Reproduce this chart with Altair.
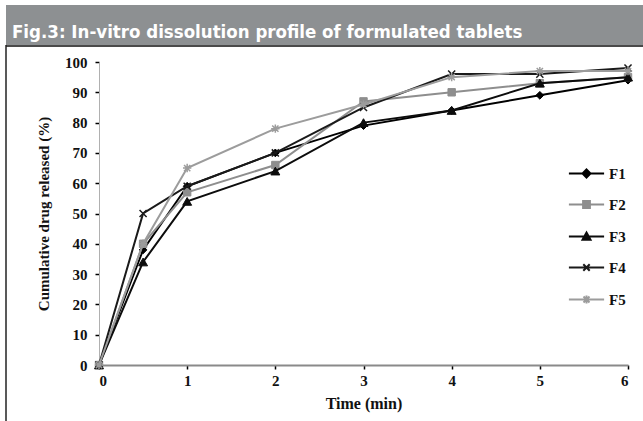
import altair as alt
import pandas as pd

title_text = "Fig.3: In-vitro dissolution profile of formulated tablets"
x_title = "Time (min)"
y_title = "Cumulative drug released (%)"

times = [0, 0.5, 1, 2, 3, 4, 5, 6]
series_names = ["F1", "F2", "F3", "F4", "F5"]
f1 = [0, 38, 59, 70, 79, 84, 89, 94]
f2 = [0, 40, 57, 66, 87, 90, 93, 95]
f3 = [0, 34, 54, 64, 80, 84, 93, 95]
f4 = [0, 50, 59, 70, 85, 96, 96, 98]
f5 = [0, 40, 65, 78, 86, 95, 97, 97]
all_values = [f1, f2, f3, f4, f5]

x_ticks = [0, 1, 2, 3, 4, 5, 6]
y_ticks = list(range(0, 101, 10))

rows = []
for name, vals in zip(series_names, all_values):
    for t, v in zip(times, vals):
        rows.append({"time": t, "value": v, "series": name})
df = pd.DataFrame(rows)

# styles
colors = ["#000000", "#8e8e8e", "#0c0c0c", "#1a1a1a", "#9c9c9c"]
X_PATH = "M-1,-1L1,1M-1,1L1,-1"
STAR_PATH = "M-1,0L1,0M0,-1L0,1M-0.75,-0.75L0.75,0.75M-0.75,0.75L0.75,-0.75"
marker_shapes = ["diamond", "square", "triangle-up", X_PATH, STAR_PATH]
marker_filled = [True, True, True, False, False]
marker_sizes = [60, 55, 80, 50, 70]
L = "M-4.4,0L4.4,0"
legend_paths = [
    L + "M0,-1L1,0L0,1L-1,0ZM0,-0.5L0.5,0L0,0.5L-0.5,0Z",
    L + "M-0.85,-0.85L0.85,-0.85L0.85,0.85L-0.85,0.85ZM-0.4,-0.4L0.4,-0.4L0.4,0.4L-0.4,0.4Z",
    L + "M0,-1L1,0.8L-1,0.8ZM0,-0.3L0.4,0.5L-0.4,0.5Z",
    L + "M-0.8,-0.8L0.8,0.8M-0.8,0.8L0.8,-0.8",
    L + "M0,-1L0,1M-0.75,-0.75L0.75,0.75M-0.75,0.75L0.75,-0.75",
]

W, H = 529, 303
PL, PT = 99, 62
FULL_W, FULL_H = 643, 421

serif = "Liberation Serif"

x_scale = alt.Scale(domain=[0, 6], nice=False, zero=False)
y_scale = alt.Scale(domain=[0, 100], nice=False)

x_axis = alt.Axis(
    values=x_ticks, format="d", grid=False, title=x_title, labelOverlap=False,
    domainColor="#8a8a8a", domainWidth=2, tickColor="#000000", tickSize=4, tickWidth=1.5,
    labelFont=serif, labelFontSize=15, labelFontWeight="bold", labelColor="#111111", labelPadding=4,
    titleFont=serif, titleFontSize=16, titleFontWeight="bold", titleColor="#111111", titlePadding=7,
)
y_axis = alt.Axis(
    values=y_ticks, format="d", grid=False, title=y_title, labelOverlap=False,
    domainColor="#b0b0b0", domainWidth=1, tickColor="#000000", tickSize=4, tickWidth=1.5,
    labelFont=serif, labelFontSize=15, labelFontWeight="bold", labelColor="#111111", labelPadding=8,
    titleFont=serif, titleFontSize=15, titleFontWeight="bold", titleColor="#111111", titlePadding=13,
)

layers = []

# title bar background, title text and frame line (decoration)
deco = pd.DataFrame({"k": [0]})
bar = alt.Chart(deco).mark_rect(color="#8d9092").encode(
    x=alt.value(6 - PL), x2=alt.value(FULL_W - PL), y=alt.value(5 - PT), y2=alt.value(45 - PT)
)
bar_edge = alt.Chart(deco).mark_rule(color="#4a4a4a", strokeWidth=2).encode(
    x=alt.value(6 - PL), x2=alt.value(FULL_W - PL), y=alt.value(46 - PT)
)
left_edge = alt.Chart(deco).mark_rule(color="#222222", strokeWidth=1.5).encode(
    x=alt.value(6 - PL), y=alt.value(45 - PT), y2=alt.value(FULL_H - PT)
)
title_mark = alt.Chart(deco).mark_text(
    align="left", baseline="alphabetic", color="white",
    font="Liberation Sans Narrow, DejaVu Sans Condensed, Liberation Sans",
    fontSize=18.5, fontWeight="bold",
).encode(x=alt.value(12 - PL), y=alt.value(38 - PT), text=alt.value(title_text))
layers += [bar, bar_edge, left_edge, title_mark]

for i, name in enumerate(series_names):
    c = colors[i]
    if marker_filled[i]:
        pt = alt.OverlayMarkDef(shape=marker_shapes[i], filled=True, fill=c, stroke=c,
                                strokeWidth=1, size=marker_sizes[i], opacity=1)
    else:
        pt = alt.OverlayMarkDef(shape=marker_shapes[i], filled=False, stroke=c,
                                strokeWidth=1.5, size=marker_sizes[i], opacity=1)
    ln = alt.Chart(df).transform_filter(alt.datum.series == name).mark_line(
        color=c, strokeWidth=2, point=pt
    ).encode(
        x=alt.X("time:Q", scale=x_scale, axis=x_axis),
        y=alt.Y("value:Q", scale=y_scale, axis=y_axis),
    )
    layers.append(ln)

legend_kw = dict(
    title=None, orient="none", legendX=480, legendY=104, padding=0,
    symbolSize=64, symbolStrokeWidth=2, symbolOpacity=1, symbolOffset=0,
    labelFont=serif, labelFontSize=15, labelFontWeight="bold", labelColor="#111111",
    labelOffset=15, rowPadding=15,
)
legend_layer = alt.Chart(df).mark_point(opacity=0, filled=False, strokeWidth=2).encode(
    x=alt.X("time:Q", scale=x_scale, axis=x_axis),
    y=alt.Y("value:Q", scale=y_scale, axis=y_axis),
    color=alt.Color("series:N", scale=alt.Scale(domain=series_names, range=colors),
                    legend=alt.Legend(**legend_kw)),
    shape=alt.Shape("series:N", scale=alt.Scale(domain=series_names, range=legend_paths),
                    legend=alt.Legend(**legend_kw)),
)
layers.append(legend_layer)

chart = alt.layer(*layers).properties(
    width=W, height=H,
    autosize=alt.AutoSizeParams(type="none"),
    padding={"left": PL, "top": PT, "right": FULL_W - PL - W, "bottom": FULL_H - PT - H},
    background="white",
).configure_view(stroke=None)

chart.save("out.html", embed_options={"renderer": "svg", "actions": False})
